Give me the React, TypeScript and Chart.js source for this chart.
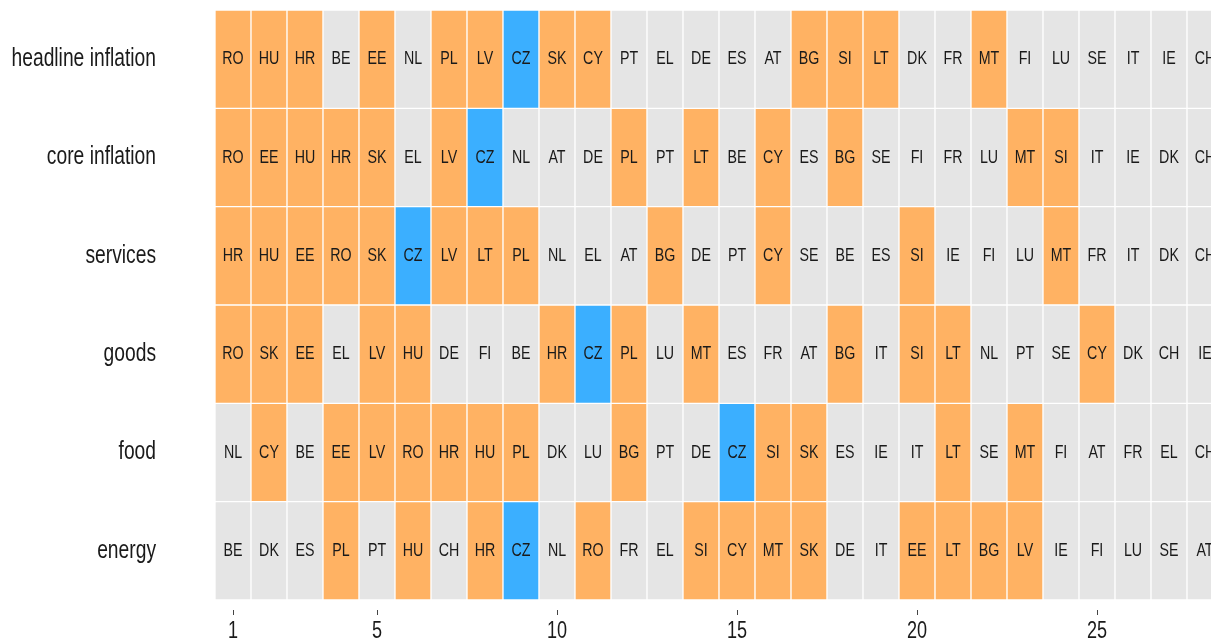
import React, { useEffect, useRef } from "react";
import { Chart, registerables } from "chart.js";

Chart.register(...registerables);

// ---- data ----
const rowLabels = ["headline inflation", "core inflation", "services", "goods", "food", "energy"];

const headlineRanks = ["RO","HU","HR","BE","EE","NL","PL","LV","CZ","SK","CY","PT","EL","DE","ES","AT","BG","SI","LT","DK","FR","MT","FI","LU","SE","IT","IE","CH"];
const coreRanks = ["RO","EE","HU","HR","SK","EL","LV","CZ","NL","AT","DE","PL","PT","LT","BE","CY","ES","BG","SE","FI","FR","LU","MT","SI","IT","IE","DK","CH"];
const servicesRanks = ["HR","HU","EE","RO","SK","CZ","LV","LT","PL","NL","EL","AT","BG","DE","PT","CY","SE","BE","ES","SI","IE","FI","LU","MT","FR","IT","DK","CH"];
const goodsRanks = ["RO","SK","EE","EL","LV","HU","DE","FI","BE","HR","CZ","PL","LU","MT","ES","FR","AT","BG","IT","SI","LT","NL","PT","SE","CY","DK","CH","IE"];
const foodRanks = ["NL","CY","BE","EE","LV","RO","HR","HU","PL","DK","LU","BG","PT","DE","CZ","SI","SK","ES","IE","IT","LT","SE","MT","FI","AT","FR","EL","CH"];
const energyRanks = ["BE","DK","ES","PL","PT","HU","CH","HR","CZ","NL","RO","FR","EL","SI","CY","MT","SK","DE","IT","EE","LT","BG","LV","IE","FI","LU","SE","AT"];

const rankTicks = [1, 5, 10, 15, 20, 25];
const orangeGroup = ["RO","HU","HR","EE","PL","LV","SK","CY","BG","SI","LT","MT"];
const highlightCountry = "CZ";

// ---- style ----
const ORANGE = "#FFB263";
const BLUE = "#3BAFFF";
const GREY = "#E5E5E5";
const TEXT = "#1A1A1A";
const FONT = '"Liberation Sans", Arial, Helvetica, sans-serif';
const TEXT_SQUEEZE = 0.77; // the reference's lettering is horizontally condensed

const rowsData = [headlineRanks, coreRanks, servicesRanks, goodsRanks, foodRanks, energyRanks];

const cells = rowsData.flatMap((codes, ri) =>
  codes.map((code, i) => ({ x: [i + 0.5, i + 1.5], y: rowLabels[ri], code }))
);

const cellColors = cells.map((c) =>
  c.code === highlightCountry ? BLUE : orangeGroup.includes(c.code) ? ORANGE : GREY
);

// Condense all text horizontally around its anchor point.
const condensedTextPlugin = {
  id: "condensedText",
  beforeDraw(chart: any) {
    const ctx = chart.ctx;
    if (ctx.__origFillText) return;
    const orig = ctx.fillText;
    ctx.__origFillText = orig;
    ctx.fillText = function (text: string, x: number, y: number, maxWidth?: number) {
      this.save();
      this.translate(x, y);
      this.scale(TEXT_SQUEEZE, 1);
      if (maxWidth === undefined) orig.call(this, text, 0, 0);
      else orig.call(this, text, 0, 0, maxWidth / TEXT_SQUEEZE);
      this.restore();
    };
  },
  afterDraw(chart: any) {
    const ctx = chart.ctx;
    if (ctx.__origFillText) {
      ctx.fillText = ctx.__origFillText;
      delete ctx.__origFillText;
    }
  },
};

const cellLabelPlugin = {
  id: "cellLabels",
  afterDatasetsDraw(chart: any) {
    const ctx = chart.ctx;
    const meta = chart.getDatasetMeta(0);
    ctx.save();
    ctx.font = `18.5px ${FONT}`;
    ctx.fillStyle = TEXT;
    ctx.textAlign = "center";
    ctx.textBaseline = "middle";
    meta.data.forEach((el: any, i: number) => {
      const p = el.getProps(["x", "y", "base"], true);
      ctx.fillText(cells[i].code, (p.x + p.base) / 2, p.y);
    });
    ctx.restore();
  },
};

export default function App() {
  const ref = useRef<HTMLCanvasElement | null>(null);

  useEffect(() => {
    if (!ref.current) return;
    const chart = new Chart(ref.current, {
      type: "bar",
      data: {
        labels: rowLabels,
        datasets: [
          {
            data: cells as any,
            backgroundColor: cellColors,
            borderColor: "#FFFFFF",
            borderWidth: 1,
            borderSkipped: false,
            categoryPercentage: 1,
            barPercentage: 1,
          } as any,
        ],
      },
      options: {
        indexAxis: "y",
        animation: false,
        responsive: false,
        maintainAspectRatio: false,
        layout: { padding: { top: 10, right: 17, left: 0, bottom: 0 } },
        plugins: {
          legend: { display: false },
          tooltip: { enabled: false },
        },
        scales: {
          x: {
            type: "linear",
            position: "bottom",
            min: 0.5,
            max: 28.5,
            afterBuildTicks: (scale: any) => {
              scale.ticks = rankTicks.map((v) => ({ value: v }));
            },
            afterFit: (scale: any) => {
              scale.height = 40;
              scale.paddingLeft = 0;
              scale.paddingRight = 0;
            },
            grid: {
              display: true,
              drawOnChartArea: false,
              drawTicks: true,
              tickLength: 16,
              tickBorderDash: [0, 10, 5, 100],
              tickColor: "#444444",
              tickWidth: 1,
            },
            border: { display: false },
            ticks: {
              autoSkip: false,
              maxRotation: 0,
              padding: 1,
              color: TEXT,
              font: { family: FONT, size: 23.5 },
            },
          },
          y: {
            type: "category",
            offset: true,
            afterFit: (scale: any) => {
              scale.width = 215;
              scale.paddingTop = 0;
              scale.paddingBottom = 0;
            },
            grid: { display: false, drawTicks: false },
            border: { display: false },
            ticks: {
              padding: 59,
              color: TEXT,
              font: { family: FONT, size: 25 },
            },
          },
        },
      } as any,
      plugins: [condensedTextPlugin, cellLabelPlugin],
    });
    return () => chart.destroy();
  }, []);

  return (
    <div
      style={{
        position: "fixed",
        left: 0,
        top: 0,
        width: 1211,
        height: 640,
        overflow: "hidden",
        background: "#FFFFFF",
      }}
    >
      <canvas
        ref={ref}
        width={1240}
        height={640}
        style={{ display: "block", width: 1240, height: 640 }}
      />
    </div>
  );
}
